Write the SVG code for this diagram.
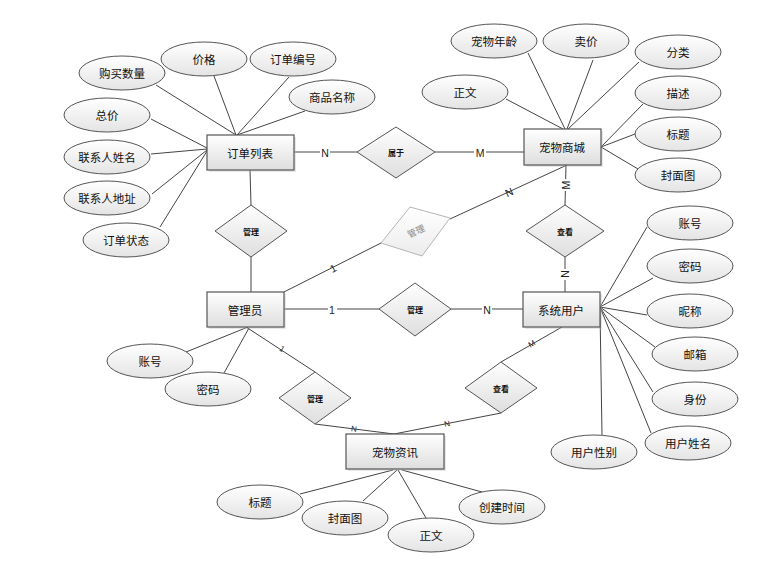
<svg xmlns="http://www.w3.org/2000/svg" width="764" height="576" viewBox="0 0 764 576">
<defs>
<linearGradient id="gE" x1="0" y1="0" x2="0" y2="1"><stop offset="0" stop-color="#ffffff"/><stop offset="1" stop-color="#e4e4e4"/></linearGradient>
<linearGradient id="gR" x1="0" y1="0" x2="0" y2="1"><stop offset="0" stop-color="#ffffff"/><stop offset="1" stop-color="#dedede"/></linearGradient>
<linearGradient id="gF" x1="0" y1="0" x2="0" y2="1"><stop offset="0" stop-color="#ffffff"/><stop offset="1" stop-color="#ececec"/></linearGradient>
<style>
.ln{stroke:#444;stroke-width:1;fill:none}
.el{fill:url(#gE);stroke:#555;stroke-width:1}
.rc{fill:url(#gR);stroke:#555;stroke-width:1.2}
.sh{fill:#bbb;opacity:0.35}
.dm{fill:url(#gR);stroke:#555;stroke-width:1}
.dmf{fill:url(#gF);stroke:#b5b5b5;stroke-width:1}
.t{font-family:"Noto Sans CJK SC","Liberation Sans",sans-serif;font-size:11.5px;fill:#111;text-anchor:middle;dominant-baseline:central}
.td{font-family:"Noto Sans CJK SC","Liberation Sans",sans-serif;font-size:8px;font-weight:bold;fill:#111;text-anchor:middle;dominant-baseline:central}
.tf{font-family:"Noto Sans CJK SC","Liberation Sans",sans-serif;font-size:9px;fill:#888;text-anchor:middle;dominant-baseline:central}
.lb{font-family:"Liberation Sans",sans-serif;font-size:10.5px;fill:#222;text-anchor:middle;dominant-baseline:central}
.ls{font-family:"Liberation Sans",sans-serif;font-size:8px;fill:#222;text-anchor:middle;dominant-baseline:central}
.bg{fill:#fff}
</style>
</defs>
<rect width="764" height="576" fill="#fff"/>

<g id="connectors">
<line class="ln" x1="156" y1="85" x2="236" y2="135"/>
<line class="ln" x1="214" y1="76" x2="236" y2="135"/>
<line class="ln" x1="289" y1="77" x2="237" y2="135"/>
<line class="ln" x1="305" y1="111" x2="237" y2="135"/>
<line class="ln" x1="151" y1="119" x2="207" y2="148"/>
<line class="ln" x1="151" y1="154" x2="207" y2="149"/>
<line class="ln" x1="152" y1="194" x2="207" y2="150"/>
<line class="ln" x1="160" y1="227" x2="207" y2="151"/>
<line class="ln" x1="528" y1="53" x2="565" y2="129"/>
<line class="ln" x1="593" y1="60" x2="567" y2="129"/>
<line class="ln" x1="506" y1="99" x2="563" y2="129"/>
<line class="ln" x1="639" y1="62" x2="568" y2="129"/>
<line class="ln" x1="643" y1="104" x2="601" y2="147"/>
<line class="ln" x1="635" y1="134" x2="601" y2="147"/>
<line class="ln" x1="638" y1="169" x2="601" y2="147"/>
<line class="ln" x1="647" y1="227" x2="600" y2="307"/>
<line class="ln" x1="653" y1="278" x2="600" y2="307"/>
<line class="ln" x1="647" y1="315" x2="600" y2="307"/>
<line class="ln" x1="655" y1="347" x2="600" y2="307"/>
<line class="ln" x1="653" y1="392" x2="600" y2="307"/>
<line class="ln" x1="651" y1="433" x2="600" y2="307"/>
<line class="ln" x1="600" y1="310" x2="602" y2="435"/>
<line class="ln" x1="186" y1="352" x2="248" y2="327"/>
<line class="ln" x1="224" y1="373" x2="249" y2="328"/>
<line class="ln" x1="300" y1="494" x2="393" y2="470"/>
<line class="ln" x1="363" y1="501" x2="397" y2="470"/>
<line class="ln" x1="426" y1="518" x2="398" y2="470"/>
<line class="ln" x1="482" y1="492" x2="402" y2="470"/>
<line class="ln" x1="294" y1="152" x2="357" y2="152"/>
<line class="ln" x1="435" y1="152" x2="524" y2="152"/>
<line class="ln" x1="250" y1="170" x2="251" y2="205"/>
<line class="ln" x1="251" y1="257" x2="251" y2="292"/>
<line class="ln" x1="284" y1="292" x2="381" y2="243"/>
<line class="ln" x1="450" y1="219" x2="567" y2="165"/>
<line class="ln" x1="566" y1="165" x2="565" y2="205"/>
<line class="ln" x1="565" y1="257" x2="565" y2="292"/>
<line class="ln" x1="284" y1="309" x2="379" y2="309"/>
<line class="ln" x1="451" y1="309" x2="523" y2="309"/>
<line class="ln" x1="246" y1="327" x2="315" y2="372"/>
<line class="ln" x1="315" y1="424" x2="394" y2="434"/>
<line class="ln" x1="562" y1="327" x2="501" y2="362"/>
<line class="ln" x1="501" y1="413" x2="394" y2="434"/>
<rect class="bg" x="320" y="147" width="10" height="11"/>
<text class="lb" x="325" y="153">N</text>
<rect class="bg" x="474" y="147" width="12" height="11"/>
<text class="lb" x="480" y="153">M</text>
<text class="lb" x="333" y="268" transform="rotate(-27 333 268)">1</text>
<text class="lb" x="509" y="192" transform="rotate(-25 509 192)">N</text>
<rect class="bg" x="561" y="179" width="11" height="12"/>
<text class="lb" x="566" y="185" transform="rotate(-90 566 185)">M</text>
<rect class="bg" x="560" y="269" width="11" height="11"/>
<text class="lb" x="565" y="274" transform="rotate(90 565 274)">N</text>
<rect class="bg" x="328" y="304" width="9" height="11"/>
<text class="lb" x="332" y="310">1</text>
<rect class="bg" x="482" y="304" width="10" height="11"/>
<text class="lb" x="487" y="310">N</text>
<text class="ls" x="282" y="349" transform="rotate(33 282 349)">1</text>
<text class="ls" x="354" y="429" transform="rotate(7 354 429)">N</text>
<text class="ls" x="532" y="344" transform="rotate(-30 532 344)">M</text>
<text class="ls" x="447" y="424" transform="rotate(-11 447 424)">N</text>
</g>

<g id="订单列表"><rect class="sh" x="209" y="137" width="87" height="35"/><rect class="rc" x="207" y="135" width="87" height="35"/><text class="t" x="250" y="153">订单列表</text></g>
<g id="宠物商城"><rect class="sh" x="526" y="131" width="77" height="36"/><rect class="rc" x="524" y="129" width="77" height="36"/><text class="t" x="562" y="147">宠物商城</text></g>
<g id="管理员"><rect class="sh" x="209" y="294" width="77" height="35"/><rect class="rc" x="207" y="292" width="77" height="35"/><text class="t" x="245" y="310">管理员</text></g>
<g id="系统用户"><rect class="sh" x="525" y="294" width="77" height="35"/><rect class="rc" x="523" y="292" width="77" height="35"/><text class="t" x="561" y="310">系统用户</text></g>
<g id="宠物资讯"><rect class="sh" x="348" y="436" width="98" height="35"/><rect class="rc" x="346" y="434" width="98" height="35"/><text class="t" x="395" y="452">宠物资讯</text></g>

<g id="属于"><polygon class="dm" points="357,152 396,127 435,152 396,178"/><text class="td" x="396" y="152">属于</text></g>
<g id="管理1"><polygon class="dm" points="215,231 251,205 287,231 251,257"/><text class="td" x="251" y="231">管理</text></g>
<g id="管理2"><polygon class="dmf" points="381,243 410,207 450,218 422,256"/><text class="tf" x="416" y="231" transform="rotate(-25 416 231)">管理</text></g>
<g id="管理3"><polygon class="dm" points="379,309 415,283 451,309 415,336"/><text class="td" x="415" y="309">管理</text></g>
<g id="查看1"><polygon class="dm" points="526,231 565,205 604,231 565,257"/><text class="td" x="565" y="231">查看</text></g>
<g id="管理4"><polygon class="dm" points="279,398 315,372 351,398 315,424"/><text class="td" x="315" y="398">管理</text></g>
<g id="查看2"><polygon class="dm" points="465,388 501,362 537,388 501,413"/><text class="td" x="501" y="388">查看</text></g>

<g id="购买数量"><ellipse class="el" cx="122" cy="73" rx="43" ry="17"/><text class="t" x="122" y="73">购买数量</text></g>
<g id="价格"><ellipse class="el" cx="204" cy="59" rx="43" ry="17"/><text class="t" x="204" y="59">价格</text></g>
<g id="订单编号"><ellipse class="el" cx="293" cy="59" rx="43" ry="17"/><text class="t" x="293" y="59">订单编号</text></g>
<g id="商品名称"><ellipse class="el" cx="332" cy="97" rx="43" ry="17"/><text class="t" x="332" y="97">商品名称</text></g>
<g id="总价"><ellipse class="el" cx="107" cy="115" rx="43" ry="17"/><text class="t" x="107" y="115">总价</text></g>
<g id="联系人姓名"><ellipse class="el" cx="107" cy="157" rx="43" ry="17"/><text class="t" x="107" y="157">联系人姓名</text></g>
<g id="联系人地址"><ellipse class="el" cx="107" cy="198" rx="43" ry="17"/><text class="t" x="107" y="198">联系人地址</text></g>
<g id="订单状态"><ellipse class="el" cx="126" cy="240" rx="43" ry="17"/><text class="t" x="126" y="240">订单状态</text></g>

<g id="宠物年龄"><ellipse class="el" cx="494" cy="41" rx="43" ry="17"/><text class="t" x="494" y="41">宠物年龄</text></g>
<g id="卖价"><ellipse class="el" cx="586" cy="41" rx="43" ry="17"/><text class="t" x="586" y="41">卖价</text></g>
<g id="分类"><ellipse class="el" cx="678" cy="52" rx="43" ry="17"/><text class="t" x="678" y="52">分类</text></g>
<g id="正文1"><ellipse class="el" cx="465" cy="92" rx="43" ry="17"/><text class="t" x="465" y="92">正文</text></g>
<g id="描述"><ellipse class="el" cx="678" cy="93" rx="43" ry="17"/><text class="t" x="678" y="93">描述</text></g>
<g id="标题1"><ellipse class="el" cx="678" cy="134" rx="43" ry="17"/><text class="t" x="678" y="134">标题</text></g>
<g id="封面图1"><ellipse class="el" cx="678" cy="175" rx="43" ry="17"/><text class="t" x="678" y="175">封面图</text></g>

<g id="账号1"><ellipse class="el" cx="690" cy="223" rx="43" ry="17"/><text class="t" x="690" y="223">账号</text></g>
<g id="密码1"><ellipse class="el" cx="690" cy="266" rx="43" ry="17"/><text class="t" x="690" y="266">密码</text></g>
<g id="昵称"><ellipse class="el" cx="690" cy="311" rx="43" ry="17"/><text class="t" x="690" y="311">昵称</text></g>
<g id="邮箱"><ellipse class="el" cx="695" cy="354" rx="43" ry="17"/><text class="t" x="695" y="354">邮箱</text></g>
<g id="身份"><ellipse class="el" cx="695" cy="399" rx="43" ry="17"/><text class="t" x="695" y="399">身份</text></g>
<g id="用户姓名"><ellipse class="el" cx="688" cy="443" rx="43" ry="17"/><text class="t" x="688" y="443">用户姓名</text></g>
<g id="用户性别"><ellipse class="el" cx="594" cy="452" rx="43" ry="17"/><text class="t" x="594" y="452">用户性别</text></g>

<g id="账号2"><ellipse class="el" cx="150" cy="361" rx="43" ry="17"/><text class="t" x="150" y="361">账号</text></g>
<g id="密码2"><ellipse class="el" cx="208" cy="389" rx="43" ry="17"/><text class="t" x="208" y="389">密码</text></g>

<g id="标题2"><ellipse class="el" cx="260" cy="502" rx="43" ry="17"/><text class="t" x="260" y="502">标题</text></g>
<g id="封面图2"><ellipse class="el" cx="345" cy="518" rx="43" ry="17"/><text class="t" x="345" y="518">封面图</text></g>
<g id="正文2"><ellipse class="el" cx="431" cy="535" rx="43" ry="17"/><text class="t" x="431" y="535">正文</text></g>
<g id="创建时间"><ellipse class="el" cx="502" cy="507" rx="43" ry="17"/><text class="t" x="502" y="507">创建时间</text></g>
</svg>
